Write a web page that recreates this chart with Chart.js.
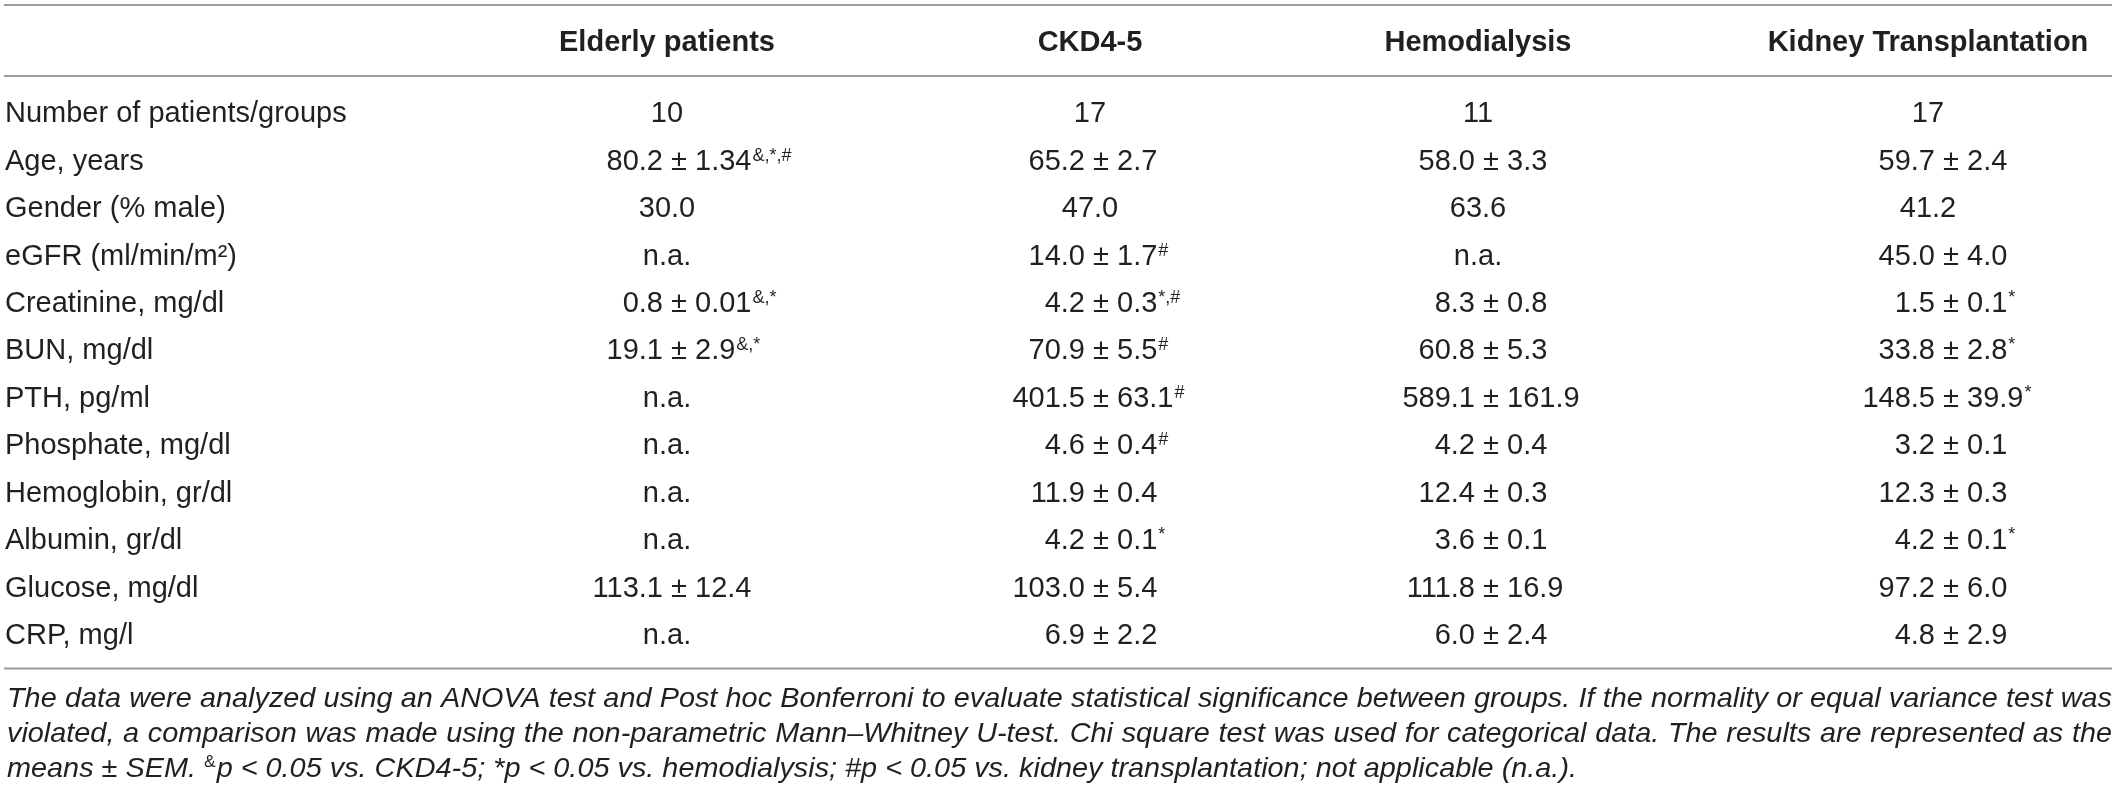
<!DOCTYPE html>
<html>
<head>
<meta charset="utf-8">
<script src="https://cdn.jsdelivr.net/npm/chart.js@4.4.1/dist/chart.umd.min.js"></script>
<style>
  html, body { margin: 0; padding: 0; background: #fff; }
  #wrap { width: 2118px; height: 792px; }
</style>
</head>
<body>
<div id="wrap"><canvas id="tabla" width="2118" height="792"></canvas></div>
<script>
// Datos de la tabla ("^" marca el superíndice)
const filas = ['Number of patients/groups', 'Age, years', 'Gender (% male)', 'eGFR (ml/min/m²)',
  'Creatinine, mg/dl', 'BUN, mg/dl', 'PTH, pg/ml', 'Phosphate, mg/dl', 'Hemoglobin, gr/dl',
  'Albumin, gr/dl', 'Glucose, mg/dl', 'CRP, mg/l'];
const grupos = ['Elderly patients', 'CKD4-5', 'Hemodialysis', 'Kidney Transplantation'];
const ancianos = ['10', '80.2 ± 1.34^&,*,#', '30.0', 'n.a.', '0.8 ± 0.01^&,*', '19.1 ± 2.9^&,*',
  'n.a.', 'n.a.', 'n.a.', 'n.a.', '113.1 ± 12.4', 'n.a.'];
const ckd = ['17', '65.2 ± 2.7', '47.0', '14.0 ± 1.7^#', '4.2 ± 0.3^*,#', '70.9 ± 5.5^#',
  '401.5 ± 63.1^#', '4.6 ± 0.4^#', '11.9 ± 0.4', '4.2 ± 0.1^*', '103.0 ± 5.4', '6.9 ± 2.2'];
const hemodialisis = ['11', '58.0 ± 3.3', '63.6', 'n.a.', '8.3 ± 0.8', '60.8 ± 5.3',
  '589.1 ± 161.9', '4.2 ± 0.4', '12.4 ± 0.3', '3.6 ± 0.1', '111.8 ± 16.9', '6.0 ± 2.4'];
const trasplante = ['17', '59.7 ± 2.4', '41.2', '45.0 ± 4.0', '1.5 ± 0.1^*', '33.8 ± 2.8^*',
  '148.5 ± 39.9^*', '3.2 ± 0.1', '12.3 ± 0.3', '4.2 ± 0.1^*', '97.2 ± 6.0', '4.8 ± 2.9'];
const nota = [
  'The data were analyzed using an ANOVA test and Post hoc Bonferroni to evaluate statistical significance between groups. If the normality or equal variance test was',
  'violated, a comparison was made using the non-parametric Mann–Whitney U-test. Chi square test was used for categorical data. The results are represented as the',
  'means ± SEM. ^&^p < 0.05 vs. CKD4-5; *p < 0.05 vs. hemodialysis; #p < 0.05 vs. kidney transplantation; not applicable (n.a.).'
];

// Estilo / maquetación
const TXT = '#231f20';
const FUENTE = '"Liberation Sans", Arial, sans-serif';
const centrosCol = [667, 1090, 1478, 1928];   // cabecera y celdas sin "±"
const ejePM = [679, 1101, 1491, 1951];        // las celdas se alinean en el "±"
const columnas = [ancianos, ckd, hemodialisis, trasplante];

function dibujarCelda(ctx, texto, cx, xpm, base, alinearIzq) {
  const [principal, sup] = texto.split('^');
  ctx.font = '29px ' + FUENTE;
  const w = ctx.measureText(principal).width;
  let x0;
  if (alinearIzq) x0 = cx;
  else if (principal.includes('±')) {
    const izq = principal.slice(0, principal.indexOf('±'));
    x0 = xpm - ctx.measureText(izq).width - ctx.measureText('±').width / 2;
  } else x0 = cx - w / 2;
  ctx.fillText(principal, x0, base);
  if (sup) {
    ctx.font = '18px ' + FUENTE;
    ctx.fillText(sup, x0 + w + 1, base - 9);
  }
}

function medirSegmentos(ctx, texto, fNormal, fSup) {
  let w = 0;
  texto.split('^').forEach((p, i) => {
    ctx.font = i % 2 ? fSup : fNormal;
    w += ctx.measureText(p).width + (i % 2 ? 1 : 0);
  });
  return w;
}

function dibujarNota(ctx, x, bases, ancho, finUltima) {
  const fNormal = 'italic 28px ' + FUENTE;
  const fSup = '17px ' + FUENTE;
  // escala horizontal tomada de la última línea (no justificada)
  const esc = (finUltima - x) / medirSegmentos(ctx, nota[2], fNormal, fSup);
  [0, 1].forEach(k => {
    ctx.font = fNormal;
    const palabras = nota[k].split(' ');
    const anchos = palabras.map(p => ctx.measureText(p).width * esc);
    const suma = anchos.reduce((a, b) => a + b, 0);
    const esp = ctx.measureText(' ').width * esc;
    const natural = suma + esp * (palabras.length - 1);
    let s = esc, gap = esp * ancho / natural;
    if (natural <= ancho) gap = (ancho - suma) / (palabras.length - 1);
    else { s = esc * ancho / natural; }
    let px = x;
    palabras.forEach((p, i) => {
      ctx.save();
      ctx.translate(px, bases[k]);
      ctx.scale(s, 1);
      ctx.fillText(p, 0, 0);
      ctx.restore();
      px += (natural <= ancho ? anchos[i] + gap : (anchos[i] + esp) * ancho / natural);
    });
  });
  ctx.save();
  ctx.translate(x, bases[2]);
  ctx.scale(esc, 1);
  let px = 0;
  nota[2].split('^').forEach((p, i) => {
    const esSup = i % 2 === 1;
    ctx.font = esSup ? fSup : fNormal;
    ctx.fillText(p, px, esSup ? -10 : 0);
    px += ctx.measureText(p).width + (esSup ? 1 : 0);
  });
  ctx.restore();
}

const tablaPlugin = {
  id: 'tabla',
  afterDraw(chart) {
    const ctx = chart.ctx;
    const area = chart.chartArea;
    const sx = chart.scales.x, sy = chart.scales.y;
    ctx.save();
    // reglas horizontales
    ctx.strokeStyle = '#9d9d9d';
    ctx.lineWidth = 2;
    [5, area.top - 12, area.bottom + 11].forEach(y => {
      ctx.beginPath();
      ctx.moveTo(4, y);
      ctx.lineTo(area.right, y);
      ctx.stroke();
    });
    ctx.fillStyle = TXT;
    ctx.textBaseline = 'alphabetic';
    ctx.textAlign = 'left';
    // etiquetas de fila
    filas.forEach((f, r) => dibujarCelda(ctx, f, 5, 0, sy.getPixelForValue(r) + 10.4, true));
    // celdas
    columnas.forEach((col, c) => {
      const cx = sx.getPixelForValue(centrosCol[c]);
      const xpm = sx.getPixelForValue(ejePM[c]);
      col.forEach((val, r) => {
        dibujarCelda(ctx, val, cx, xpm, sy.getPixelForValue(r) + 10.4, false);
      });
    });
    // nota al pie
    const b = area.bottom;
    dibujarNota(ctx, 7, [b + 49, b + 84.5, b + 119.5], area.right - 7, 1577);
    ctx.restore();
  }
};

new Chart(document.getElementById('tabla'), {
  type: 'bar',
  data: { labels: filas, datasets: [] },
  options: {
    indexAxis: 'y',
    responsive: false,
    animation: false,
    layout: { padding: { top: 5, left: 5, right: 6, bottom: 134.5 } },
    plugins: { legend: { display: false }, tooltip: { enabled: false } },
    scales: {
      x: {
        type: 'linear', position: 'top', min: 405, max: 2112,
        grid: { display: false, drawTicks: false }, border: { display: false },
        afterBuildTicks: s => { s.ticks = centrosCol.map(v => ({ value: v })); },
        afterFit: s => { s.height = 83; },
        ticks: {
          autoSkip: false, maxRotation: 0, minRotation: 0, padding: 28, color: TXT,
          font: { family: FUENTE, size: 29, weight: 'bold' },
          callback: (v, i) => grupos[i]
        }
      },
      y: {
        type: 'category', offset: true,
        grid: { display: false, drawTicks: false }, border: { display: false },
        afterFit: s => { s.width = 400; },
        ticks: { display: false, autoSkip: false }
      }
    }
  },
  plugins: [tablaPlugin]
});
</script>
</body>
</html>
